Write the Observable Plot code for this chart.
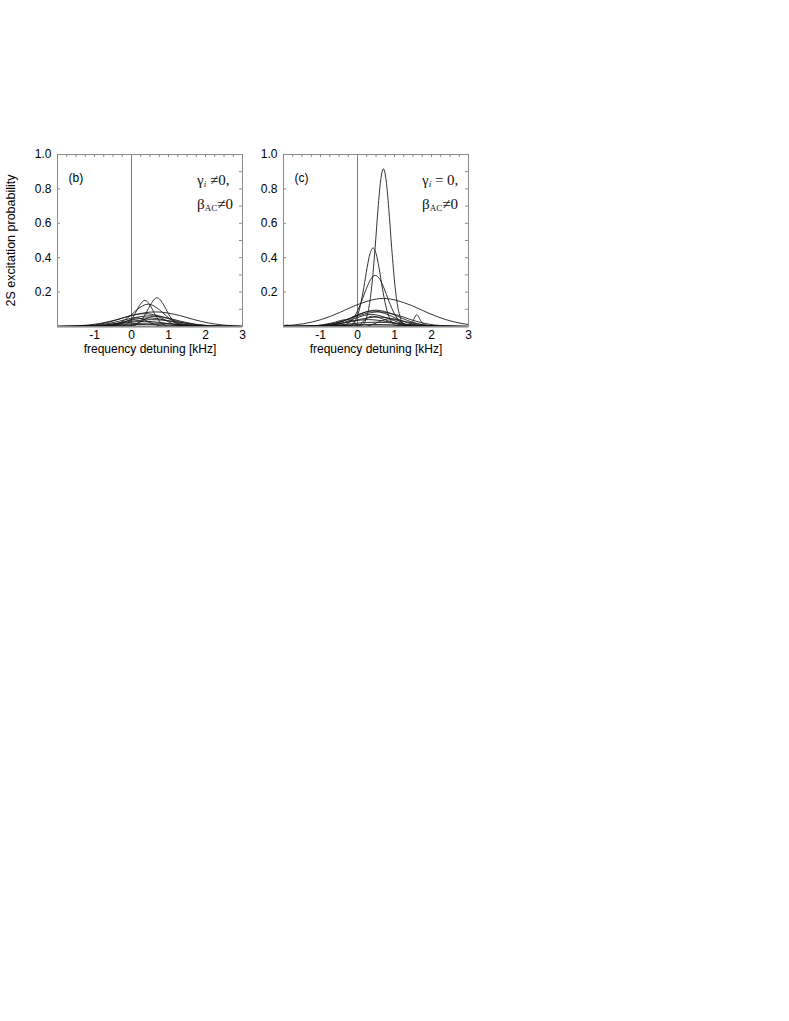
<!DOCTYPE html>
<html>
<head>
<meta charset="utf-8">
<script src="https://cdn.jsdelivr.net/npm/d3@7"></script>
<script src="https://cdn.jsdelivr.net/npm/@observablehq/plot@0.6"></script>
<style>
  body { margin: 0; background: #fff; }
  #wrap { position: relative; width: 789px; height: 1021px; background: #fff; }
  .panel { position: absolute; top: 140px; overflow: visible; }
  .note { position: absolute; font-family: "Liberation Serif", "Times New Roman", serif; font-size: 15px; line-height: 22px; color: #111; white-space: nowrap; }
  .note sub { font-size: 9px; vertical-align: baseline; position: relative; top: 2px; }
  .note sub.it { font-style: italic; }
</style>
</head>
<body>
<div id="wrap"></div>
<script>
// ---- data: each curve is a list of [detuning kHz, probability] ----
const xTicks = [-1, 0, 1, 2, 3];
const yTicks = [0.2, 0.4, 0.6, 0.8, 1.0];
const xLabel = "frequency detuning [kHz]";
const yLabel = "2S excitation probability";
const panelLabels = ["(b)", "(c)"];

const curvesB = [
  [[-2,0],[-0.30,0.0015],[-0.113,0.015],[-0.007,0.038],[0.10,0.076],[0.193,0.114],[0.36,0.152],[0.527,0.114],[0.62,0.076],[0.727,0.038],[0.833,0.015],[1.02,0.0015],[3,0]],
  [[-2,0],[-0.03,0.0017],[0.174,0.0167],[0.29,0.042],[0.407,0.084],[0.508,0.125],[0.69,0.167],[0.872,0.125],[0.973,0.084],[1.09,0.042],[1.206,0.0167],[1.41,0.0017],[3,0]],
  [[-2,0],[-0.75,0.0013],[-0.41,0.013],[-0.218,0.0325],[-0.022,0.065],[0.146,0.0975],[0.45,0.13],[0.754,0.0975],[0.922,0.065],[1.118,0.0325],[1.31,0.013],[1.65,0.0013],[3,0]],
  [[-2,0.0007],[-1.9,0.00085],[-1.18,0.0085],[-0.77,0.021],[-0.35,0.0425],[0.004,0.064],[0.65,0.085],[1.296,0.064],[1.65,0.0425],[2.07,0.021],[2.48,0.0085],[3,0.0019]],
  [[-2,0],[-1.6,0.00075],[-1.05,0.0075],[-0.735,0.019],[-0.417,0.0375],[-0.144,0.056],[0.35,0.075],[0.844,0.056],[1.117,0.0375],[1.435,0.019],[1.75,0.0075],[2.3,0.00075],[3,0]],
  [[-2,0.0003],[-1.6,0.0006],[-1.005,0.0062],[-0.67,0.0155],[-0.326,0.031],[-0.032,0.0465],[0.5,0.062],[1.032,0.0465],[1.326,0.031],[1.67,0.0155],[2.005,0.0062],[2.6,0.0006],[3,0]],
  [[-2,0],[-1.35,0.0005],[-0.84,0.005],[-0.55,0.0125],[-0.258,0.025],[-0.006,0.0375],[0.45,0.05],[0.906,0.0375],[1.158,0.025],[1.45,0.0125],[1.74,0.005],[2.25,0.0005],[3,0]],
  [[-2,0.0002],[-1.7,0.0004],[-1.06,0.004],[-0.70,0.01],[-0.335,0.02],[-0.02,0.03],[0.55,0.04],[1.12,0.03],[1.435,0.02],[1.8,0.01],[2.16,0.004],[2.8,0.0004],[3,0.0002]],
  [[-2,0],[-1.45,0.0003],[-0.94,0.003],[-0.65,0.0075],[-0.358,0.015],[-0.106,0.0225],[0.35,0.03],[0.806,0.0225],[1.058,0.015],[1.35,0.0075],[1.64,0.003],[2.15,0.0003],[3,0]],
  [[-2,0.0002],[-1.22,0.002],[-0.836,0.005],[-0.444,0.01],[-0.108,0.015],[0.5,0.02],[1.108,0.015],[1.444,0.01],[1.836,0.005],[2.22,0.002],[2.9,0.0002],[3,0.0001]],
  [[-2,0.0001],[-1.105,0.0012],[-0.77,0.003],[-0.426,0.006],[-0.132,0.009],[0.4,0.012],[0.932,0.009],[1.226,0.006],[1.57,0.003],[1.905,0.0012],[2.5,0.0001],[3,0]],
  [[-2,0],[-0.28,0.0006],[-0.025,0.006],[0.12,0.015],[0.266,0.03],[0.392,0.045],[0.62,0.06],[0.848,0.045],[0.974,0.03],[1.12,0.015],[1.265,0.006],[1.52,0.0006],[3,0]],
  [[-2,0],[-0.69,0.0005],[-0.452,0.005],[-0.318,0.0125],[-0.18,0.025],[-0.063,0.0375],[0.15,0.05],[0.363,0.0375],[0.48,0.025],[0.618,0.0125],[0.752,0.005],[0.99,0.0005],[3,0]]
];

const curvesC = [
  [[-2,0],[0.13,0.009],[0.225,0.040],[0.2915,0.092],[0.383,0.229],[0.476,0.457],[0.556,0.688],[0.624,0.846],[0.70,0.917],[0.776,0.846],[0.844,0.688],[0.924,0.457],[1.017,0.229],[1.1085,0.092],[1.175,0.040],[1.27,0.009],[3,0]],
  [[-2,0],[-0.21,0.0046],[-0.105,0.020],[-0.0315,0.0457],[0.069,0.114],[0.172,0.2285],[0.26,0.343],[0.336,0.422],[0.42,0.457],[0.504,0.422],[0.58,0.343],[0.668,0.2285],[0.771,0.114],[0.8715,0.0457],[0.945,0.020],[1.05,0.0046],[3,0]],
  [[-2,0],[-0.45,0.003],[-0.295,0.013],[-0.1865,0.0297],[-0.038,0.074],[0.114,0.1485],[0.244,0.223],[0.356,0.274],[0.48,0.297],[0.604,0.274],[0.716,0.223],[0.846,0.1485],[0.998,0.074],[1.1465,0.0297],[1.255,0.013],[1.41,0.003],[3,0]],
  [[-2,0.0042],[-1.45,0.0163],[-0.97,0.041],[-0.48,0.0815],[-0.06,0.122],[0.70,0.163],[1.46,0.122],[1.88,0.0815],[2.37,0.041],[2.85,0.0163],[3,0.0116]],
  [[-2,0],[-1.3,0.001],[-0.79,0.0095],[-0.5,0.024],[-0.208,0.0475],[0.044,0.071],[0.5,0.095],[0.956,0.071],[1.208,0.0475],[1.5,0.024],[1.79,0.0095],[2.3,0.001],[3,0]],
  [[-2,0],[-1.23,0.0009],[-0.76,0.009],[-0.5,0.0225],[-0.23,0.045],[0.002,0.0675],[0.42,0.09],[0.838,0.0675],[1.07,0.045],[1.34,0.0225],[1.6,0.009],[2.07,0.0009],[3,0]],
  [[-2,0.0004],[-1.52,0.0009],[-0.925,0.0085],[-0.59,0.021],[-0.246,0.0425],[0.048,0.064],[0.58,0.085],[1.112,0.064],[1.406,0.0425],[1.75,0.021],[2.085,0.0085],[2.68,0.0009],[3,0.0002]],
  [[-2,0],[-1.12,0.0007],[-0.695,0.007],[-0.455,0.0175],[-0.21,0.035],[0.0,0.0525],[0.38,0.07],[0.76,0.0525],[0.97,0.035],[1.215,0.0175],[1.455,0.007],[1.88,0.0007],[3,0]],
  [[-2,0.0001],[-1.4,0.00055],[-0.85,0.0055],[-0.535,0.0138],[-0.217,0.0275],[0.056,0.041],[0.55,0.055],[1.044,0.041],[1.317,0.0275],[1.635,0.0138],[1.95,0.0055],[2.5,0.00055],[3,0]],
  [[-2,0],[-1.5,0.0004],[-0.99,0.004],[-0.7,0.01],[-0.408,0.02],[-0.156,0.03],[0.3,0.04],[0.756,0.03],[1.008,0.02],[1.3,0.01],[1.59,0.004],[2.1,0.0004],[3,0]],
  [[-2,0.0001],[-1.6,0.00025],[-1.005,0.0025],[-0.67,0.006],[-0.326,0.0125],[-0.032,0.019],[0.5,0.025],[1.032,0.019],[1.326,0.0125],[1.67,0.006],[2.005,0.0025],[2.6,0.00025],[3,0]],
  [[-2,0.0001],[-1.32,0.0012],[-0.936,0.003],[-0.544,0.006],[-0.208,0.009],[0.4,0.012],[1.008,0.009],[1.344,0.006],[1.736,0.003],[2.12,0.0012],[2.8,0.0001],[3,0]],
  [[-2,0],[0.2,0],[0.5,0.02],[0.85,0.045],[1.15,0.03],[1.38,0.006],[1.47,0.02],[1.6,0.068],[1.72,0.03],[1.85,0.004],[2.1,0],[3,0]],
  [[-2,0],[-1.2,0.004],[-0.7,0.02],[-0.3,0.04],[-0.1,0.03],[0.02,0],[0.15,0.03],[0.4,0.06],[0.8,0.035],[1.2,0.008],[1.6,0],[3,0]],
  [[-2,0.004],[-1.9,0.008],[-1.78,0.002],[-1.6,0.001],[-1.0,0.002],[3,0]]
];

const topMinor = d3.range(-2, 3.001, 0.25);
const sideMinor = d3.range(0, 1.001, 0.1);

// ---- drawing ----
const wrap = document.getElementById("wrap");
const frameW = 185, frameH = 172, mTop = 14, mBottom = 35, mRight = 8;
const tickFont = 12;

function panel(curves, label, marginLeft, showYLabel) {
  const data = curves.flatMap((pts, i) => pts.map(([x, y]) => ({x, y, id: i})));
  const marks = [
    Plot.ruleX([0], {stroke: "#7a7a7a", strokeWidth: 1}),
    Plot.line(data, {x: "x", y: "y", z: "id", curve: "monotone-x", stroke: "#1c1c1c", strokeWidth: 0.9, clip: true}),
    Plot.ruleY([0], {stroke: "#000", strokeWidth: 1.6}),
    Plot.frame({stroke: "#8a8a8a", strokeWidth: 1}),
    Plot.tickX(topMinor, {x: d => d, stroke: "#8a8a8a", insetBottom: frameH - 3}),
    Plot.tickY(sideMinor, {y: d => d, stroke: "#8a8a8a", insetLeft: frameW - 3}),
    Plot.tickY(yTicks, {y: d => d, stroke: "#8a8a8a", insetRight: frameW - 3}),
    Plot.axisX(xTicks, {tickSize: 0, tickPadding: 4, label: null, fontSize: tickFont, tickFormat: d => String(d)}),
    Plot.axisY(yTicks, {tickSize: 0, tickPadding: 6, label: null, fontSize: tickFont, tickFormat: d3.format(".1f")}),
    Plot.text([xLabel], {frameAnchor: "bottom", dy: 26, fontSize: 12, fill: "#000"}),
    Plot.text([label], {frameAnchor: "top-left", dx: 11, dy: 19, fontSize: 12, textAnchor: "start", fill: "#000"})
  ];
  if (showYLabel) {
    marks.push(Plot.text([yLabel], {frameAnchor: "left", textAnchor: "middle", dx: -47, rotate: -90, fontSize: 12.5, fill: "#000"}));
  }
  return Plot.plot({
    width: marginLeft + frameW + mRight,
    height: mTop + frameH + mBottom,
    marginLeft, marginRight: mRight, marginTop: mTop, marginBottom: mBottom,
    style: {fontFamily: "'Liberation Sans', Arial, sans-serif", fontSize: "12px", color: "#000", background: "transparent", overflow: "visible"},
    x: {domain: [-2, 3], axis: null},
    y: {domain: [0, 1], axis: null},
    marks
  });
}

const pb = panel(curvesB, panelLabels[0], 57, true);
pb.classList.add("panel"); pb.style.left = "0px";
wrap.appendChild(pb);

const pc = panel(curvesC, panelLabels[1], 43, false);
pc.classList.add("panel"); pc.style.left = "240px";
wrap.appendChild(pc);

function note(left, html) {
  const d = document.createElement("div");
  d.className = "note";
  d.style.left = left + "px";
  d.style.top = "169px";
  d.innerHTML = html;
  wrap.appendChild(d);
}
note(197, "γ<sub class='it'>i</sub> ≠0,<br>β<sub>AC</sub>≠0");
note(422, "γ<sub class='it'>i</sub> = 0,<br>β<sub>AC</sub>≠0");
</script>
</body>
</html>
